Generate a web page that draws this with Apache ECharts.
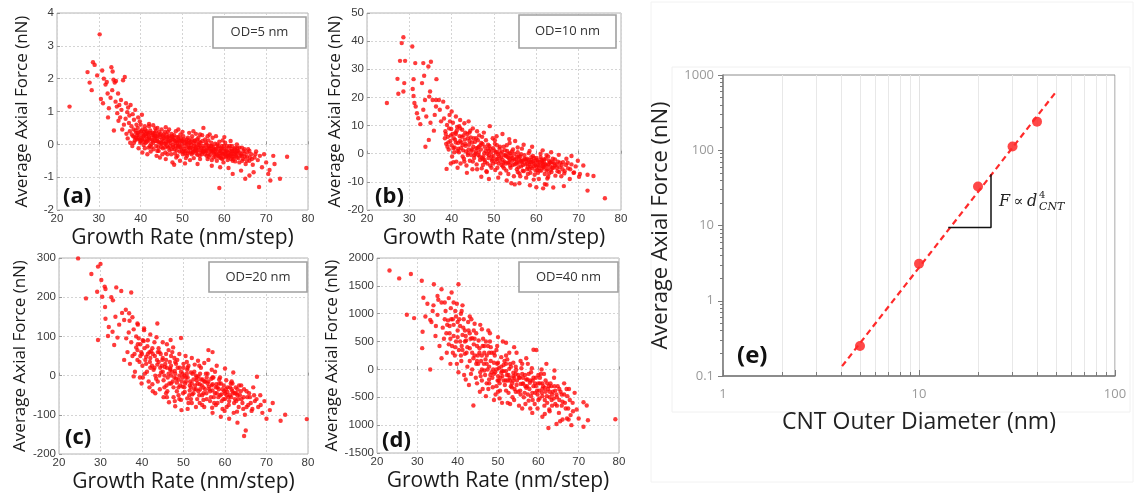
<!DOCTYPE html>
<html>
<head>
<meta charset="utf-8">
<script src="https://cdn.jsdelivr.net/npm/echarts@6/dist/echarts.min.js"></script>
<style>
html, body { margin: 0; padding: 0; background: #fff; }
#main { width: 1135px; height: 496px; }
</style>
</head>
<body>
<div id="main"></div>
<script>
// tick labels
var growthTicks = ['20', '30', '40', '50', '60', '70', '80'];
var yTicksA = ['-2', '-1', '0', '1', '2', '3', '4'];
var yTicksB = ['-20', '-10', '0', '10', '20', '30', '40', '50'];
var yTicksC = ['-200', '-100', '0', '100', '200', '300'];
var yTicksD = ['-1500', '1000', '-500', '0', '500', '1000', '1500', '2000'];
var odLabels = ['OD=5 nm', 'OD=10 nm', 'OD=20 nm', 'OD=40 nm'];
var panelLabels = ['(a)', '(b)', '(c)', '(d)'];

// (a) OD=5 nm : [growth rate, average axial force]
var ptsA = [
[23.0,1.15],[27.3,2.2],[27.8,1.88],[28.3,1.65],[28.6,2.5],[29.0,2.42],[29.6,2.1],[30.2,3.35],[30.8,2.25],[30.5,1.38],
[31.0,1.25],[31.2,2.0],[31.6,1.82],[31.9,1.9],[32.1,1.55],[32.4,1.1],[32.2,0.82],[32.8,1.42],[33.0,2.35],[33.3,2.22],
[33.5,1.97],[33.2,1.65],[33.8,1.88],[34.1,1.93],[34.0,1.3],[34.3,1.15],[34.6,1.55],[34.4,0.95],[34.9,1.2],[35.1,0.82],
[35.4,1.05],[35.3,1.35],[35.8,1.95],[36.2,2.05],[36.0,0.6],[33.6,0.42],[34.7,0.72],[35.6,0.45],[36.5,1.25],[36.8,0.98],
[36.4,0.78],[37.0,1.12],[37.3,0.88],[37.6,1.2],[37.2,0.65],[37.8,0.55],[38.1,0.92],[38.4,0.75],[38.7,1.05],[39.0,0.6],
[39.4,0.82],[39.8,0.7],[40.3,0.9],[41.0,0.55],[42.0,0.62],[43.5,0.48],[36.6,0.32],[36.9,0.18],[37.5,0.05],[38.0,-0.05],
[38.6,0.12],[37.4,0.4],[37.9,0.3],[38.3,0.45],[38.5,0.22],[38.9,0.35],[39.1,0.15],[39.3,0.5],[39.6,0.28],[39.9,0.05],
[40.1,0.4],[40.2,0.2],[40.5,0.32],[40.7,-0.02],[40.9,0.15],[41.1,0.45],[41.3,0.25],[41.5,0.08],[41.7,0.35],[41.9,-0.1],
[42.1,0.18],[42.3,0.42],[42.5,0.02],[42.7,0.28],[42.9,0.12],[43.1,-0.15],[43.3,0.35],[43.5,0.2],[43.7,-0.05],[43.9,0.1],
[44.1,0.3],[44.3,-0.2],[44.5,0.05],[44.7,0.22],[44.9,-0.08],[45.1,0.15],[39.5,-0.12],[40.4,-0.25],[41.6,-0.3],[42.4,-0.22],
[43.8,-0.35],[44.6,-0.4],[42.0,0.55],[44.0,0.5],[45.0,0.45],[45.3,-0.12],[45.5,0.3],[45.7,0.02],[45.9,-0.25],[46.1,0.18],
[46.3,-0.05],[46.5,0.38],[46.7,0.08],[46.9,-0.18],[47.1,0.12],[47.3,-0.3],[47.5,0.25],[47.7,-0.02],[47.9,0.15],[48.1,-0.15],
[48.3,0.05],[48.5,-0.4],[48.7,0.22],[48.9,-0.08],[49.1,0.1],[49.3,-0.22],[49.5,0.3],[49.7,-0.12],[49.9,0.02],[50.1,-0.3],
[50.3,0.15],[50.5,-0.05],[50.7,-0.2],[50.9,0.08],[51.1,-0.35],[51.3,0.2],[51.5,-0.1],[51.7,0.05],[51.9,-0.25],[52.1,-0.02],
[52.3,0.25],[52.5,-0.15],[52.7,-0.42],[52.9,0.1],[53.1,-0.08],[53.3,-0.28],[53.5,0.15],[53.7,-0.18],[53.9,-0.02],[54.1,-0.35],
[54.3,0.05],[54.5,-0.12],[54.7,0.28],[54.9,-0.22],[55.0,0.5],[46.0,-0.45],[47.6,-0.55],[48.0,-0.62],[49.4,-0.5],[50.6,-0.58],
[51.8,-0.48],[53.6,-0.6],[46.8,0.45],[48.4,0.4],[50.0,0.38],[51.6,0.35],[53.2,0.32],[54.2,0.3],[55.2,-0.1],[55.4,-0.3],
[55.6,0.05],[55.8,-0.2],[56.0,-0.45],[56.2,0.12],[56.4,-0.12],[56.6,-0.32],[56.8,-0.05],[57.0,-0.22],[57.2,0.2],[57.4,-0.4],
[57.6,-0.15],[57.8,0.02],[58.0,-0.28],[58.2,-0.5],[58.4,-0.1],[58.6,-0.35],[58.8,0.08],[59.0,-0.2],[59.2,-0.42],[59.4,-0.05],
[59.6,-0.3],[59.8,-0.55],[60.0,-0.15],[60.2,0.05],[60.4,-0.38],[60.6,-0.22],[60.8,-0.48],[61.0,-0.1],[61.2,-0.32],[61.4,-0.2],
[61.6,-0.45],[61.8,-0.05],[62.0,-0.28],[62.2,-0.38],[62.4,-0.15],[62.6,-0.52],[62.8,-0.25],[63.0,-0.4],[57.0,-0.65],[59.0,-0.7],
[61.0,-0.72],[58.0,0.25],[60.0,0.22],[56.5,0.3],[61.5,0.1],[63.3,-0.2],[63.6,-0.55],[63.9,-0.35],[64.2,-0.1],[64.5,-0.45],
[64.8,-0.28],[65.1,-0.6],[65.4,-0.38],[65.7,-0.15],[66.0,-0.5],[66.4,-0.3],[66.8,-0.62],[67.2,-0.4],[67.6,-0.22],[68.0,-0.48],
[68.5,-0.35],[69.0,-0.7],[69.5,-0.3],[70.0,-0.55],[70.5,-0.9],[71.7,-0.35],[70.8,-0.78],[66.0,-0.95],[68.3,-1.3],[58.8,-1.33],
[72.0,-0.6],[73.3,-1.05],[71.0,-1.1],[75.0,-0.38],[79.6,-0.72],[64.0,-0.8],[65.0,-1.05],[62.0,-0.9],[67.0,-0.85],
[40.0,0.1],[40.6,0.25],[41.2,0.05],[41.8,0.3],[42.6,0.15],[43.2,0.22],[44.2,0.08],[44.8,0.32],[45.4,0.1],[46.0,0.02],
[46.6,-0.1],[47.2,0.05],[47.8,-0.08],[48.6,0.12],[49.2,-0.02],[49.8,0.1],[50.4,-0.15],[51.0,0.02],[51.4,-0.22],[52.0,-0.1],
[52.6,0.05],[53.0,-0.18],[53.8,-0.1],[54.4,-0.25],[55.0,-0.05],[55.6,-0.18],[56.2,-0.28],[56.8,-0.2],[57.4,-0.08],[58.0,-0.15],
[58.6,-0.22],[59.2,-0.12],[59.8,-0.28],[60.4,-0.18],[61.0,-0.25],[61.6,-0.3],[62.2,-0.2],[62.8,-0.35],[63.4,-0.42],[64.0,-0.3],
[39.2,0.28],[40.8,0.38],[42.2,-0.05],[43.6,0.4],[45.2,-0.3],[46.4,0.22],[47.4,0.32],[48.2,-0.28],[49.6,0.18],[50.8,-0.42],
[52.2,0.15],[53.4,0.02],[54.8,0.1],[56.0,-0.1],[57.6,-0.3],[58.8,-0.4],[60.6,-0.05],[61.8,-0.15],[63.0,-0.2],[64.6,-0.2],
[38.2,0.25],[38.8,0.42],[39.4,0.18],[39.7,0.38],[40.3,0.15],[40.9,0.28],[41.4,0.4],[41.6,0.16],[42.0,0.22],[42.8,0.35],
[43.0,0.05],[43.4,0.26],[44.0,0.18],[44.4,0.38],[44.9,0.05],[45.6,0.2],[45.8,0.38],[46.2,0.08],[46.8,0.25],[47.0,-0.05],
[47.6,0.15],[48.0,0.28],[48.4,-0.05],[48.8,0.05],[49.0,0.22],[49.5,-0.08],[50.0,0.12],[50.2,-0.22],[50.6,0.05],[51.2,-0.1],
[51.5,0.12],[52.0,0.08],[52.4,-0.25],[52.8,-0.05],[53.2,-0.12],[53.6,-0.32],[54.0,0.08],[54.6,-0.18],[55.3,-0.22],[55.8,0.0],
[56.3,-0.38],[56.9,0.05],[57.3,-0.18],[57.9,-0.38],[58.3,0.0],[58.9,-0.28],[59.3,-0.25],[59.9,-0.05],[60.3,-0.3],[60.9,-0.35],
[61.3,-0.05],[61.9,-0.38],[62.5,-0.28],[63.1,-0.12],[63.7,-0.25],[64.3,-0.5],[64.9,-0.38],[65.5,-0.25],[66.1,-0.4],[62.0,-0.5],
[59.5,-0.45],[57.0,-0.48],[54.2,-0.45],[51.2,-0.28],[48.8,-0.35],[46.4,-0.3],[44.0,-0.2],[41.0,-0.12],[40.0,0.6],[43.0,0.58],
[46.0,0.52],[49.0,0.45],[52.6,0.4],[56.0,0.25],[59.6,0.12],[63.0,0.0],
[38.4,0.05],[38.9,0.2],[39.3,0.35],[39.8,0.15],[40.4,0.45],[40.8,0.08],[41.3,0.32],[41.8,0.12],[42.2,0.35],[42.6,-0.08],
[43.0,0.3],[43.4,0.1],[43.8,0.25],[44.2,-0.08],[44.6,0.28],[45.0,0.02],[45.4,0.25],[45.8,-0.1],[46.2,0.3],[46.6,0.12],
[47.0,0.2],[47.4,-0.15],[47.8,0.22],[48.2,0.1],[48.6,-0.18],[49.0,-0.05],[49.4,0.12],[49.8,-0.22],[50.2,0.25],[50.6,-0.28],
[51.0,0.15],[51.4,0.0],[51.8,-0.12],[52.2,-0.3],[52.6,-0.22],[53.0,0.12],[53.4,-0.2],[53.8,0.2],[54.2,-0.05],[54.6,-0.3],
[55.0,-0.22],[55.4,0.15],[55.8,-0.35],[56.2,-0.05],[56.6,-0.15],[57.0,-0.05],[57.4,-0.25],[57.8,-0.2],[58.2,-0.32],[58.6,-0.05],
[59.0,-0.35],[59.4,-0.15],[59.8,-0.4],[60.2,-0.25],[60.6,-0.35],[61.0,-0.4],[61.4,-0.35],[61.8,-0.22],[62.2,-0.45],[62.6,-0.1],
[63.0,-0.3],[63.6,-0.1],[64.2,-0.35],[64.8,-0.15],[65.4,-0.5],[66.0,-0.2],[66.6,-0.45],[67.4,-0.3]
];

// (b) OD=10 nm
var ptsB = [
[24.7,18.0],[27.2,26.6],[27.4,21.3],[27.8,33.0],[28.2,39.3],[28.6,41.4],[29.0,33.0],[28.6,22.1],[28.8,25.1],[30.7,38.1],
[31.0,26.5],[30.8,23.0],[31.4,32.2],[33.3,32.2],[35.1,32.7],[34.5,31.0],[33.5,27.7],[36.4,26.5],[33.0,25.1],[34.9,22.1],
[31.0,20.5],[31.2,18.0],[31.5,16.8],[31.8,14.4],[32.1,12.6],[33.3,15.6],[33.7,19.1],[34.7,20.3],[35.5,19.1],[36.3,19.1],
[37.0,19.1],[36.3,16.8],[37.2,15.6],[33.8,2.5],[34.6,4.9],[38.8,-5.4],[32.6,10.5],[34.0,13.2],[35.0,11.0],[36.0,13.8],
[37.5,11.5],[35.8,8.2],[72.1,-7.5],[73.5,-7.9],[72.1,-13.1],[76.2,-15.8],[71.1,-4.2],[68.3,-0.8],[70.1,-8.2],[68.9,-6.7],
[65.3,-0.4],[61.6,-12.3],[62.4,-11.0],[60.0,-11.9],[54.1,-10.5],[54.9,-10.9],
[38.2,12.5],[38.5,8.0],[38.7,3.5],[38.9,10.2],[39.1,6.0],[39.3,1.5],[39.5,13.8],[39.7,4.5],[39.9,8.8],[40.1,-1.0],
[40.3,11.0],[40.5,5.5],[40.7,2.2],[40.9,7.5],[41.1,-2.8],[41.3,9.5],[41.5,3.8],[41.7,0.5],[41.9,6.2],[42.1,-3.5],
[42.3,4.0],[42.5,8.5],[42.7,1.2],[42.9,-1.8],[43.1,5.0],[43.3,2.8],[43.5,-4.2],[43.7,7.0],[43.9,0.2],[44.1,3.2],
[44.3,-2.5],[44.5,5.8],[44.7,1.0],[44.9,-5.5],[45.1,2.5],[39.0,16.5],[40.0,15.0],[41.0,13.2],[42.0,12.0],[43.0,10.8],
[44.0,11.5],[45.0,9.0],[38.0,18.5],[39.8,-3.5],[41.4,-5.0],[43.6,-6.8],
[45.3,-1.5],[45.5,4.2],[45.7,0.8],[45.9,-3.8],[46.1,2.0],[46.3,-0.5],[46.5,6.5],[46.7,-2.2],[46.9,1.5],[47.1,-5.2],
[47.3,3.5],[47.5,-1.0],[47.7,0.2],[47.9,-3.0],[48.1,4.8],[48.3,-6.5],[48.5,1.8],[48.7,-1.5],[48.9,2.8],[49.1,-4.2],
[49.3,0.5],[49.5,-2.5],[49.7,5.5],[49.9,-0.8],[50.1,1.2],[50.3,-5.8],[50.5,-2.0],[50.7,3.0],[50.9,-0.2],[51.1,-3.5],
[51.3,1.8],[51.5,-7.0],[51.7,-1.2],[51.9,0.8],[52.1,-4.5],[52.3,2.5],[52.5,-2.8],[52.7,-0.5],[52.9,-6.0],[53.1,1.0],
[53.3,-3.2],[53.5,-1.5],[53.7,3.8],[53.9,-5.0],[54.1,-0.8],[54.3,-2.5],[54.5,1.5],[54.7,-8.0],[54.9,-3.8],[46.0,8.0],
[47.6,7.5],[49.0,9.8],[50.6,6.2],[52.0,7.0],[53.6,5.2],[55.0,4.5],[47.0,-8.2],[48.8,-9.0],[51.0,-8.5],[53.0,-9.5],
[55.2,-2.0],[55.4,-5.5],[55.6,0.5],[55.8,-3.2],[56.0,-7.0],[56.2,-1.0],[56.4,-4.5],[56.6,1.8],[56.8,-2.5],[57.0,-6.2],
[57.2,-0.5],[57.4,-3.8],[57.6,-8.5],[57.8,-1.8],[58.0,-4.8],[58.2,0.2],[58.4,-3.0],[58.6,-6.8],[58.8,-2.2],[59.0,-5.2],
[59.2,-0.8],[59.4,-3.5],[59.6,-7.5],[59.8,-4.0],[60.0,-1.5],[60.2,-5.8],[60.4,-2.8],[60.6,-9.0],[60.8,-4.2],[61.0,-1.2],
[61.2,-6.0],[61.4,-3.2],[61.6,-5.0],[61.8,-2.0],[62.0,-7.2],[62.2,-3.8],[62.4,-0.5],[62.6,-5.5],[62.8,-8.2],[63.0,-2.5],
[63.3,-4.5],[63.6,-6.5],[63.9,-1.8],[64.2,-3.5],[64.5,-7.8],[64.8,-5.0],[65.1,-2.8],[57.0,3.2],[59.0,2.5],[61.5,1.2],
[63.5,0.5],[56.0,-10.5],[58.5,-11.2],[62.0,-10.8],[65.5,-4.8],[65.9,-8.0],[66.3,-3.0],[66.7,-6.2],[67.1,-1.8],[67.5,-5.2],
[67.9,-9.0],[68.3,-3.8],[68.8,-6.8],[69.3,-4.5],[69.8,-2.5],[70.3,-7.2],[64.0,-12.0],[66.5,-11.5],
[40.0,3.0],[40.8,5.0],[41.6,1.8],[42.4,6.0],[43.2,3.5],[44.0,1.5],[44.8,4.0],[45.6,0.0],[46.4,2.5],[47.2,-1.5],
[48.0,1.0],[48.8,-0.5],[49.6,-2.0],[50.4,0.5],[51.2,-1.0],[52.0,-2.0],[52.8,-0.8],[53.6,-3.0],[54.4,-1.5],[55.2,-3.5],
[56.0,-2.0],[56.8,-4.0],[57.6,-2.5],[58.4,-3.8],[59.2,-2.8],[60.0,-4.5],[60.8,-3.0],[61.6,-3.8],[62.4,-4.2],[63.2,-3.2],
[64.0,-5.0],[41.2,8.2],[43.8,5.5],[46.2,4.8],[48.6,3.2],[51.4,2.5],[53.8,0.2],[56.4,-0.2],[58.8,-1.2],[61.2,-2.0],
[39.4,9.0],[42.6,-1.0],[45.0,-2.8],[47.4,-4.0],[49.4,-5.0],[52.4,-5.2],[55.6,-6.5],[58.0,-7.2],[60.4,-6.8],[63.0,-7.0],
[38.4,5.5],[39.0,2.5],[39.6,11.5],[40.2,7.0],[40.6,0.5],[41.0,4.0],[41.8,9.8],[42.2,2.0],[42.8,6.5],[43.4,0.8],
[44.2,7.5],[44.6,-0.5],[45.2,5.5],[45.8,2.0],[46.6,-1.0],[47.0,3.8],[47.8,-2.2],[48.4,0.0],[49.2,1.8],[49.8,-3.5],
[50.2,3.5],[50.8,-1.8],[51.6,0.2],[52.2,-3.2],[52.6,1.2],[53.2,-1.2],[53.8,-4.2],[54.2,0.8],[54.8,-2.0],[55.4,-1.0],
[55.8,-4.8],[56.6,-3.0],[57.2,-1.8],[57.8,-5.5],[58.2,-2.2],[58.6,-4.5],[59.4,-1.5],[59.8,-6.0],[60.2,-2.2],[60.6,-5.2],
[61.4,-2.5],[61.8,-4.8],[62.2,-1.8],[62.8,-3.8],[63.4,-5.8],[63.8,-3.0],[64.4,-4.2],[65.0,-6.2],[65.6,-3.2],[66.2,-5.5],
[67.0,-4.0],[40.4,-3.0],[43.0,-2.8],[46.0,-5.5],[48.2,-6.2],[50.8,-5.0],[53.4,-7.2],[56.2,-8.0],[59.4,-9.2],[62.6,-8.8],
[42.0,9.0],[44.4,8.2],[47.2,6.0],[50.2,4.8],[53.0,3.0],[55.6,2.2],[58.4,1.0],[61.0,0.0],
[38.6,7.0],[39.2,4.0],[39.8,6.5],[40.4,2.0],[41.0,7.0],[41.4,1.0],[42.0,4.5],[42.6,3.0],[43.2,7.5],[43.8,-0.5],
[44.2,4.5],[44.8,1.5],[45.4,-0.5],[45.8,5.5],[46.4,0.5],[46.8,3.0],[47.4,-2.0],[47.8,2.5],[48.4,-3.5],[48.8,1.0],
[49.4,-1.0],[49.8,2.0],[50.4,-3.0],[50.8,0.5],[51.4,-2.5],[51.8,-4.0],[52.4,-0.5],[52.8,-3.5],[53.4,0.0],[53.8,-2.0],
[54.4,-4.0],[54.8,0.0],[55.4,-3.0],[55.8,-1.0],[56.4,-2.5],[56.8,-6.0],[57.4,-2.0],[57.8,-3.5],[58.4,-5.5],[58.8,-3.0],
[59.4,-4.5],[59.8,-2.5],[60.4,-4.0],[60.8,-6.0],[61.4,-4.5],[61.8,-3.0],[62.4,-6.0],[62.8,-1.0],[63.4,-3.0],[63.8,-5.0],
[64.4,-2.0],[64.8,-3.8],[65.4,-6.5],[66.0,-4.0],[66.6,-7.0],[67.4,-3.2],[68.0,-5.5]
];

// (c) OD=20 nm
var ptsC = [
[24.6,299],[26.5,197],[27.8,259],[29.4,278],[30.0,285],[29.2,214],[30.2,244],[30.4,201],[31.0,227],[31.2,221],
[29.4,91],[33.8,225],[35.0,216],[37.4,212],[32.6,200],[33.0,192],[31.1,175],[31.2,145],[32.0,124],[31.8,101],
[32.9,112],[34.1,97],[35.7,142],[36.1,168],[36.9,159],[37.7,149],[38.9,133],[40.5,116],[43.7,133],[46.9,91],
[49.4,96],[38.9,65],[35.7,40],[33.3,78],[34.5,130],[35.2,160],[33.6,150],[56.0,65],[57.0,60],[67.7,-3],
[36.2,95],[36.5,60],[36.8,110],[37.1,30],[37.4,85],[37.7,50],[38.0,118],[38.3,10],[38.6,72],[38.9,40],
[39.2,95],[39.5,-5],[39.8,60],[40.1,25],[40.4,88],[40.7,5],[41.0,48],[41.3,75],[41.6,-15],[41.9,35],
[42.2,62],[42.5,-22],[42.8,15],[43.1,50],[43.4,-8],[43.7,28],[44.0,70],[44.3,-35],[44.6,8],[44.9,40],
[39.0,130],[40.5,120],[42.0,105],[43.5,98],[45.0,85],[37.0,140],[38.0,-2],[39.9,-20],[41.8,-30],[43.2,-45],
[45.2,-12],[45.5,22],[45.8,55],[46.1,-40],[46.4,5],[46.7,35],[47.0,-20],[47.3,60],[47.6,-55],[47.9,12],
[48.2,-8],[48.5,40],[48.8,-30],[49.1,20],[49.4,-62],[49.7,-5],[50.0,30],[50.3,-42],[50.6,-15],[50.9,15],
[51.2,-70],[51.5,-25],[51.8,8],[52.1,-48],[52.4,-10],[52.7,28],[53.0,-35],[53.3,-60],[53.6,-2],[53.9,-22],
[54.2,20],[54.5,-50],[54.8,-30],[46.0,80],[47.5,72],[49.0,55],[50.5,50],[52.0,45],[53.5,38],[55.0,32],
[46.5,-68],[48.0,-78],[49.5,-88],[51.0,-85],[53.0,-80],[54.5,-75],[45.9,-25],[47.0,0],[48.4,-18],[50.2,0],
[51.5,-38],[53.2,-12],[44.5,55],[46.8,18],[49.8,-28],
[55.2,-15],[55.5,-45],[55.8,5],[56.1,-28],[56.4,-65],[56.7,-8],[57.0,-38],[57.3,-55],[57.6,10],[57.9,-22],
[58.2,-70],[58.5,-35],[58.8,-5],[59.1,-48],[59.4,-85],[59.7,-25],[60.0,-60],[60.3,-12],[60.6,-42],[60.9,-75],
[61.2,-30],[61.5,-55],[61.8,-20],[62.1,-95],[62.4,-45],[62.7,-65],[63.0,-35],[63.3,-80],[63.6,-50],[63.9,-25],
[64.2,-70],[64.5,-55],[64.8,-100],[56.0,40],[58.0,25],[60.0,18],[62.0,8],[57.0,-95],[59.0,-105],[61.0,-110],
[65.2,-40],[65.6,-75],[66.0,-55],[66.4,-90],[66.8,-30],[67.2,-65],[68.0,-80],[68.5,-50],[69.0,-95],[69.5,-65],
[70.0,-110],[65.0,-140],[64.6,-154],[70.8,-88],[73.4,-115],[74.5,-100],[79.7,-111],[71.5,-70],[63.0,-120],
[40.0,55],[41.0,30],[42.0,45],[43.0,20],[44.0,35],[45.0,10],[45.6,30],[46.2,-5],[46.8,15],[47.4,-15],
[48.0,5],[48.6,20],[49.2,-25],[49.8,5],[50.4,-20],[51.0,-5],[51.6,-15],[52.2,5],[52.8,-25],[53.4,-20],
[54.0,-35],[54.6,-10],[55.2,-35],[55.8,-20],[56.4,-40],[57.0,-22],[57.6,-45],[58.2,-30],[58.8,-50],[59.4,-35],
[60.0,-45],[60.6,-30],[61.2,-50],[61.8,-40],[62.4,-60],[63.0,-50],[42.5,70],[44.2,60],[47.8,45],[50.8,35],
[53.8,25],[56.8,15],[43.8,-15],[46.0,-55],[48.8,-50],[51.8,-60],[54.8,-62],[57.8,-75],[60.4,-80],[39.4,35],
[38.6,100],[41.4,90],
[40.6,70],[41.2,10],[41.8,60],[42.4,25],[43.0,85],[43.6,40],[44.2,0],[44.8,25],[45.4,-30],[45.8,40],
[46.4,65],[47.0,25],[47.6,-30],[48.2,30],[48.8,-10],[49.4,10],[49.9,-45],[50.6,-5],[51.2,25],[51.8,-30],
[52.4,-45],[53.0,0],[53.6,-40],[54.2,-10],[54.8,-45],[55.4,5],[56.0,-15],[56.6,-55],[57.2,-5],[57.8,-30],
[58.4,-55],[59.0,-20],[59.6,-60],[60.2,-35],[60.8,-55],[61.4,-20],[62.0,-45],[62.6,-30],[63.2,-60],[63.8,-40],
[64.4,-85],[65.4,-55],[66.2,-70],[67.0,-50],[38.2,55],[39.6,80],[40.2,-5],[42.6,-40],[45.2,-55],[47.9,-65],
[50.9,-58],[53.9,-70],[56.9,-82],[59.9,-90],[62.9,-92],[47.0,50],[50.0,20],[52.6,10],[55.6,-5],[58.6,-10],
[61.6,-15],
[39.0,80],[39.6,50],[40.2,90],[40.8,40],[41.4,55],[42.0,20],[42.6,55],[43.2,0],[43.8,60],[44.4,20],
[45.0,45],[45.4,0],[46.0,20],[46.6,-20],[47.2,10],[47.8,-5],[48.4,-40],[49.0,0],[49.6,-15],[50.2,-30],
[50.8,5],[51.4,-50],[52.0,-20],[52.6,-35],[53.2,-5],[53.8,-50],[54.4,-25],[55.0,-15],[55.6,-60],[56.2,-35],
[56.8,-25],[57.4,-70],[58.0,-45],[58.6,-20],[59.2,-65],[59.8,-40],[60.4,-50],[61.0,-65],[61.6,-35],[62.2,-70],
[62.8,-45],[63.4,-25],[64.0,-60],[64.6,-35],[65.2,-80],[65.8,-45],[66.6,-85],[67.6,-60],[68.6,-75],[48.0,35],
[51.0,20],[54.0,5],[57.0,-5],[45.8,-45],[49.0,-60],[52.0,-70],[55.0,-80]
];

// (d) OD=40 nm
var ptsD = [
[23.1,1775],[25.5,1634],[28.4,1713],[31.1,1591],[34.1,1530],[40.2,1530],[36.0,1439],[31.5,1287],[27.4,982],[29.2,921],
[33.2,890],[31.3,677],[31.2,382],[33.2,0],[43.9,-647],[58.8,353],[72.0,-647],[71.2,-588],[79.1,-894],[71.2,-1029],
[72.3,-912],[65.4,-929],[67.1,-882],[32.5,1180],[33.8,1050],[35.0,1320],[36.8,1200],[38.5,1380],[34.6,780],[32.0,950],
[33.5,850],[34.0,1150],[34.5,600],[35.0,980],[35.5,420],[36.0,1200],[36.3,750],[36.6,550],[37.0,1050],[37.3,300],
[37.6,880],[38.0,650],[38.3,1100],[38.6,420],[39.0,800],[39.3,250],[39.6,950],[40.0,580],[40.3,350],[40.6,780],
[40.9,150],[41.2,620],[41.5,900],[41.8,280],[42.1,520],[42.4,50],[42.7,700],[43.0,380],[43.3,-80],[43.6,560],
[43.9,200],[44.2,820],[44.5,-150],[44.8,420],[35.2,1250],[37.8,1280],[39.8,1180],[41.0,1050],[43.0,950],[36.0,200],
[38.2,100],[40.2,-50],[42.0,-180],
[45.1,100],[45.4,380],[45.7,-120],[46.0,250],[46.3,550],[46.6,-20],[46.9,180],[47.2,-250],[47.5,420],[47.8,50],
[48.1,-100],[48.4,300],[48.7,-320],[49.0,120],[49.3,-50],[49.6,350],[49.9,-200],[50.2,20],[50.5,-380],[50.8,220],
[51.1,-120],[51.4,80],[51.7,-280],[52.0,-30],[52.3,180],[52.6,-420],[52.9,-150],[53.2,50],[53.5,-250],[53.8,120],
[54.1,-350],[54.4,-80],[54.7,-200],[46.0,720],[48.0,650],[50.0,580],[52.0,480],[54.0,400],[45.5,-400],[47.0,-480],
[49.0,-550],[51.0,-600],[53.0,-620],[46.5,100],[48.8,0],[50.8,-60],[52.8,10],[54.5,-10],[47.8,-180],[50.0,-120],
[51.9,-200],[53.8,-120],
[55.2,-150],[55.5,-380],[55.8,20],[56.1,-260],[56.4,-500],[56.7,-100],[57.0,-330],[57.3,-180],[57.6,-560],[57.9,-240],
[58.2,-50],[58.5,-420],[58.8,-300],[59.1,-620],[59.4,-150],[59.7,-380],[60.0,-250],[60.3,-520],[60.6,-80],[60.9,-420],
[61.2,-300],[61.5,-650],[61.8,-200],[62.1,-480],[62.4,-350],[62.7,-720],[63.0,-250],[63.3,-550],[63.6,-400],[63.9,-150],
[64.2,-620],[64.5,-450],[64.8,-300],[65.1,-780],[59.5,350],[62.0,100],[64.0,-20],[57.0,200],[56.0,-700],[58.5,-780],
[61.0,-850],[65.5,-400],[66.0,-580],[66.4,-250],[66.8,-700],[67.2,-480],[67.6,-350],[68.0,-820],[68.5,-600],[69.0,-420],
[69.5,-720],[66.0,-900],[67.5,-900],[70.0,-880],[68.2,-1000],[62.5,-1050],[64.5,-980],
[38.0,780],[39.0,600],[40.0,700],[41.0,420],[42.0,600],[43.0,150],[44.0,450],[45.0,250],[45.8,150],[46.6,300],
[47.4,0],[48.2,150],[49.0,-80],[49.8,100],[50.6,-150],[51.4,-30],[52.2,-100],[53.0,-200],[53.8,-60],[54.6,-280],
[55.4,-150],[56.2,-250],[57.0,-180],[57.8,-350],[58.6,-200],[59.4,-300],[60.2,-380],[61.0,-250],[61.8,-400],[62.6,-300],
[63.4,-450],[64.2,-380],[40.8,1000],[44.6,650],[47.0,500],[49.8,420],[52.8,300],[55.6,150],[58.4,20],[61.4,-80],
[41.6,-100],[44.8,-250],[47.6,-350],[50.4,-520],[53.6,-500],[56.8,-620],[59.8,-700],[62.8,-750],[36.8,900],[39.4,1050],
[37.2,650],[37.8,450],[38.4,900],[38.8,300],[39.6,500],[40.4,900],[40.8,250],[41.4,750],[41.8,500],[42.2,300],
[42.6,850],[43.2,550],[43.6,0],[44.2,250],[44.6,100],[45.2,520],[45.6,-50],[46.2,420],[46.8,-100],[47.2,250],
[47.8,-250],[48.2,400],[48.6,-150],[49.2,250],[49.6,-300],[50.0,120],[50.4,-250],[51.0,-30],[51.6,150],[52.0,-380],
[52.4,-200],[53.0,100],[53.4,-320],[54.0,-150],[54.4,50],[55.0,-400],[55.6,-260],[56.0,-80],[56.6,-420],[57.2,-300],
[57.6,-80],[58.2,-480],[58.8,-150],[59.2,-420],[60.0,-550],[60.4,-250],[61.0,-480],[61.6,-330],[62.2,-600],[62.8,-500],
[63.2,-300],[63.8,-520],[64.6,-650],[65.2,-550],[65.8,-450],[66.6,-600],[67.4,-700],[39.0,1200],[41.2,1150],[43.4,900],
[45.6,800],[47.6,700],[51.2,500],[54.6,300],[57.4,100],[60.8,0],[39.8,100],[42.8,-280],[46.2,-350],[49.4,-450],
[52.4,-600],[55.2,-650],[58.0,-700],[61.6,-800],
[37.4,800],[38.2,550],[38.8,900],[39.4,400],[40.0,850],[40.6,500],[41.2,350],[41.8,700],[42.4,400],[43.0,650],
[43.6,300],[44.2,550],[44.8,150],[45.4,300],[46.0,0],[46.6,420],[47.2,100],[47.8,300],[48.4,-50],[49.0,300],
[49.6,0],[50.2,-200],[50.8,50],[51.4,-200],[52.0,100],[52.6,-100],[53.2,-300],[53.8,-200],[54.4,-400],[55.0,-100],
[55.6,-450],[56.2,-150],[56.8,-300],[57.4,-450],[58.0,-200],[58.6,-550],[59.2,-250],[59.8,-450],[60.4,-150],[61.0,-350],
[61.6,-550],[62.2,-250],[62.8,-400],[63.4,-650],[64.0,-300],[64.6,-500],[65.2,-350],[65.8,-650],[66.4,-450],[67.0,-350],
[67.8,-550],[68.6,-750],[44.0,700],[48.0,500],[52.0,250],[56.0,100],[60.0,-100],[46.0,-200],[50.0,-400],[54.0,-550]
];

// (e) average force vs outer diameter
var diameters = [5, 10, 20, 30, 40];
var avgForce = [0.25, 3.1, 33, 112, 240];
var fitLine = [[4.05, 0.135], [50.4, 613]];
var slopeMark = [[14.1, 9.4], [23.3, 9.4], [23.3, 47.9]];

var dom = document.getElementById('main');
var myChart = echarts.init(dom);

var panels = [
    { pts: ptsA, min: -2, max: 4, step: 1, labels: yTicksA, box: [57, 13, 251, 197], gap: 26 },
    { pts: ptsB, min: -20, max: 50, step: 10, labels: yTicksB, box: [367, 13, 254, 197], gap: 21 },
    { pts: ptsC, min: -200, max: 300, step: 100, labels: yTicksC, box: [59, 258, 249, 196], gap: 28 },
    { pts: ptsD, min: -1500, max: 2000, step: 500, labels: yTicksD, box: [377, 258, 242, 195], gap: 31 }
];

var grids = [], xAxes = [], yAxes = [], series = [], graphics = [];

panels.forEach(function (p, i) {
    grids.push({
        left: p.box[0], top: p.box[1], width: p.box[2], height: p.box[3],
        show: true, borderColor: '#b4b4b4', borderWidth: 1
    });
    xAxes.push({
        gridIndex: i, type: 'value', min: 20, max: 80, interval: 10,
        axisLine: { show: false },
        axisTick: { show: true, inside: true, length: 3, lineStyle: { color: '#999' } },
        axisLabel: {
            color: '#3a3a3a', fontSize: 11.5, margin: 3, fontFamily: 'Liberation Sans',
            formatter: function (v) { return growthTicks[Math.round((v - 20) / 10)]; }
        },
        splitLine: { show: true, lineStyle: { color: '#d4d4d4', type: [2, 2] } },
        name: 'Growth Rate (nm/step)', nameLocation: 'middle', nameGap: 18,
        nameTextStyle: { fontSize: 21, color: '#1a1a1a', fontFamily: 'Open Sans' }
    });
    yAxes.push({
        gridIndex: i, type: 'value', min: p.min, max: p.max, interval: p.step,
        axisLine: { show: false },
        axisTick: { show: true, inside: true, length: 3, lineStyle: { color: '#999' } },
        axisLabel: {
            color: '#3a3a3a', fontSize: 11.5, margin: 3, fontFamily: 'Liberation Sans',
            formatter: (function (pp) {
                return function (v) { return pp.labels[Math.round((v - pp.min) / pp.step)]; };
            })(p)
        },
        splitLine: { show: true, lineStyle: { color: '#d4d4d4', type: [2, 2] } },
        name: 'Average Axial Force (nN)', nameLocation: 'middle', nameGap: p.gap,
        nameTextStyle: { fontSize: 17, color: '#1a1a1a', fontFamily: 'Open Sans' }
    });
    series.push({
        type: 'scatter', xAxisIndex: i, yAxisIndex: i, data: p.pts,
        symbolSize: 4.4, itemStyle: { color: '#ff0a0a' }, silent: true
    });
});

// panel (e): log-log
grids.push({ left: 723, top: 75, width: 392, height: 301, show: true, borderColor: '#8c8c8c', borderWidth: 1 });
xAxes.push({
    gridIndex: 4, type: 'log', logBase: 10, min: 1, max: 100,
    axisLine: { show: true, lineStyle: { color: '#7a7a7a', width: 1.5 } },
    axisTick: { show: true, inside: true, length: 6, lineStyle: { color: '#7a7a7a' } },
    minorTick: { show: true, splitNumber: 9, length: 4, lineStyle: { color: '#7a7a7a' } },
    minorSplitLine: { show: true, lineStyle: { color: '#e8e8e8' } },
    splitLine: { show: true, lineStyle: { color: '#e2e2e2' } },
    axisLabel: { color: '#9a9a9a', fontSize: 13, margin: 12, fontFamily: 'Open Sans' },
    name: 'CNT Outer Diameter (nm)', nameLocation: 'middle', nameGap: 35,
    nameTextStyle: { fontSize: 23, color: '#222', fontFamily: 'Open Sans' }
});
yAxes.push({
    gridIndex: 4, type: 'log', logBase: 10, min: 0.1, max: 1000,
    axisLine: { show: true, lineStyle: { color: '#7a7a7a', width: 1.5 } },
    axisTick: { show: true, inside: false, length: 5, lineStyle: { color: '#7a7a7a' } },
    minorTick: { show: true, splitNumber: 9, length: 3, lineStyle: { color: '#7a7a7a' } },
    splitLine: { show: false },
    axisLabel: {
        color: '#9a9a9a', fontSize: 13, margin: 9, fontFamily: 'Open Sans',
        formatter: function (v) { return String(v); }
    },
    name: 'Average Axial Force (nN)', nameLocation: 'middle', nameGap: 51,
    nameTextStyle: { fontSize: 22, color: '#222', fontFamily: 'Open Sans' }
});
series.push({
    type: 'line', xAxisIndex: 4, yAxisIndex: 4, data: fitLine, symbol: 'none',
    lineStyle: { color: '#ff2a2a', width: 2.2, type: [6, 4] }, silent: true
});
series.push({
    type: 'line', xAxisIndex: 4, yAxisIndex: 4, data: slopeMark, symbol: 'none',
    lineStyle: { color: '#111', width: 1.5 }, silent: true
});
series.push({
    type: 'scatter', xAxisIndex: 4, yAxisIndex: 4,
    data: diameters.map(function (d, i) { return [d, avgForce[i]]; }),
    symbolSize: 10, itemStyle: { color: '#ff1a1a' }, silent: true
});

// legend boxes and panel tags
var odBoxes = [[213, 17, 93, 31], [519, 15, 97, 33], [209, 262, 98, 30], [519, 262, 99, 30]];
var tagPos = [[63, 186], [375, 186], [65, 427], [382, 430]];
odBoxes.forEach(function (b, i) {
    graphics.push({
        type: 'rect', shape: { x: b[0], y: b[1], width: b[2], height: b[3] },
        style: { fill: '#fff', stroke: '#a0a0a0', lineWidth: 1.6 }, z: 10
    });
    graphics.push({
        type: 'text', x: b[0] + b[2] / 2, y: b[1] + b[3] / 2, z: 11,
        style: { text: odLabels[i], fill: '#333', fontSize: 13, fontFamily: 'Open Sans', align: 'center', verticalAlign: 'middle' }
    });
    graphics.push({
        type: 'text', x: tagPos[i][0], y: tagPos[i][1], z: 11,
        style: { text: panelLabels[i], fill: '#111', fontSize: 22, fontWeight: 'bold', fontFamily: 'Open Sans' }
    });
});
graphics.push({
    type: 'text', x: 737, y: 344, z: 11,
    style: { text: '(e)', fill: '#111', fontSize: 24, fontWeight: 'bold', fontFamily: 'Open Sans' }
});
// faint frames around panel (e)
graphics.push({
    type: 'rect', shape: { x: 651, y: 2, width: 482, height: 480 }, z: -1,
    style: { fill: 'none', stroke: '#f2f2f2', lineWidth: 1 }
});
graphics.push({
    type: 'rect', shape: { x: 672, y: 67, width: 458, height: 345 }, z: -1,
    style: { fill: 'none', stroke: '#f0f0f0', lineWidth: 1 }
});
// F ∝ d^4_CNT
graphics.push({
    type: 'text', x: 999, y: 194, z: 12,
    style: {
        text: '{i|F} {n|\u221D} {i|d}',
        rich: {
            i: { fontFamily: 'DejaVu Serif', fontStyle: 'italic', fontSize: 16, fill: '#222' },
            n: { fontFamily: 'DejaVu Serif', fontSize: 15, fill: '#222' }
        }
    }
});
graphics.push({
    type: 'text', x: 1039, y: 190, z: 12,
    style: { text: '4', fontFamily: 'DejaVu Serif', fontSize: 10, fill: '#222' }
});
graphics.push({
    type: 'text', x: 1039, y: 202, z: 12,
    style: { text: 'CNT', fontFamily: 'DejaVu Serif', fontStyle: 'italic', fontSize: 11, fill: '#222' }
});

option = {
    backgroundColor: '#fff',
    animation: false,
    grid: grids,
    xAxis: xAxes,
    yAxis: yAxes,
    series: series,
    graphic: graphics
};
if (option && typeof option === 'object') {
    myChart.setOption(option, true);
}
</script>
</body>
</html>
